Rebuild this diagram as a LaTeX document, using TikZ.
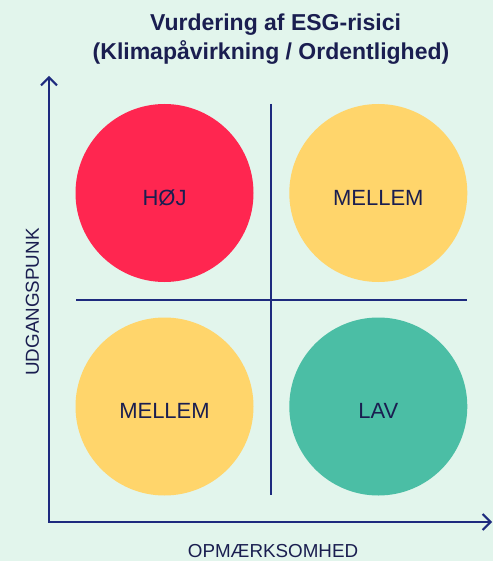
\documentclass[tikz,border=0pt]{standalone}
\usepackage{fontspec}
\setmainfont{Liberation Sans}
\usetikzlibrary{arrows.meta}
\definecolor{bgmint}{HTML}{E2F5EC}
\definecolor{axisnavy}{HTML}{1D2A7E}
\definecolor{ink}{HTML}{1A1E50}
\definecolor{riskred}{HTML}{FF2650}
\definecolor{riskyellow}{HTML}{FFD56B}
\definecolor{riskteal}{HTML}{4BBEA5}
\tikzset{
  riskcircle/.style={circle, inner sep=0pt, minimum size=178pt, draw=none},
  circlelabel/.style={anchor=base, inner sep=0pt, text=ink, font=\fontsize{22}{26}\selectfont},
  axislabel/.style={inner sep=0pt, text=ink, font=\fontsize{18.8}{22}\selectfont},
  titleline/.style={anchor=base, inner sep=0pt, text=ink, font=\fontsize{23}{28}\selectfont\bfseries},
  axisline/.style={draw=axisnavy, line width=2pt, -{Straight Barb[length=8pt,width=16pt,line width=2pt]}},
  divider/.style={draw=axisnavy, line width=2pt}
}
\begin{document}
\begin{tikzpicture}[x=1pt,y=-1pt]
\fill[bgmint] (0,0) rectangle (493,561);
\useasboundingbox (0,0) rectangle (493,561);

% title
\node[titleline] (title1) at (275.5,30.7) {Vurdering af ESG-risici};
\node[titleline] (title2) at (271,60) {(Klimapåvirkning / Ordentlighed)};

% circles
\node[riskcircle, fill=riskred]    (hoj)  at (164.5,193) {};
\node[riskcircle, fill=riskyellow] (mtr)  at (378.3,193) {};
\node[riskcircle, fill=riskyellow] (mbl)  at (164.5,406.5) {};
\node[riskcircle, fill=riskteal]   (lav)  at (378.3,406.5) {};

\node[circlelabel] (hojt) at (164.5,205.8) {HØJ};
\node[circlelabel] (mtrt) at (378.3,205.8) {MELLEM};
\node[circlelabel] (mblt) at (164.5,418.5) {MELLEM};
\node[circlelabel] (lavt) at (378.3,418.5) {LAV};

% dividers
\coordinate (vtop) at (271,104);
\coordinate (vbot) at (271,495);
\coordinate (hleft) at (76,299.5);
\coordinate (hright) at (467,299.5);
\draw[divider] (vtop) -- (vbot);
\draw[divider] (hleft) -- (hright);

% axes
\coordinate (origin) at (49,522);
\coordinate (ytop) at (49,76);
\coordinate (xend) at (492,522);
\draw[axisline] (origin) -- (ytop);
\draw[axisline] ([xshift=-1pt]origin) -- (xend);

% axis labels
\node[axislabel, rotate=90] (ylab) at (32.5,302) {UDGANGSPUNK};
\node[axislabel, anchor=base] (xlab) at (273,557.5) {OPMÆRKSOMHED};
\end{tikzpicture}
\end{document}
